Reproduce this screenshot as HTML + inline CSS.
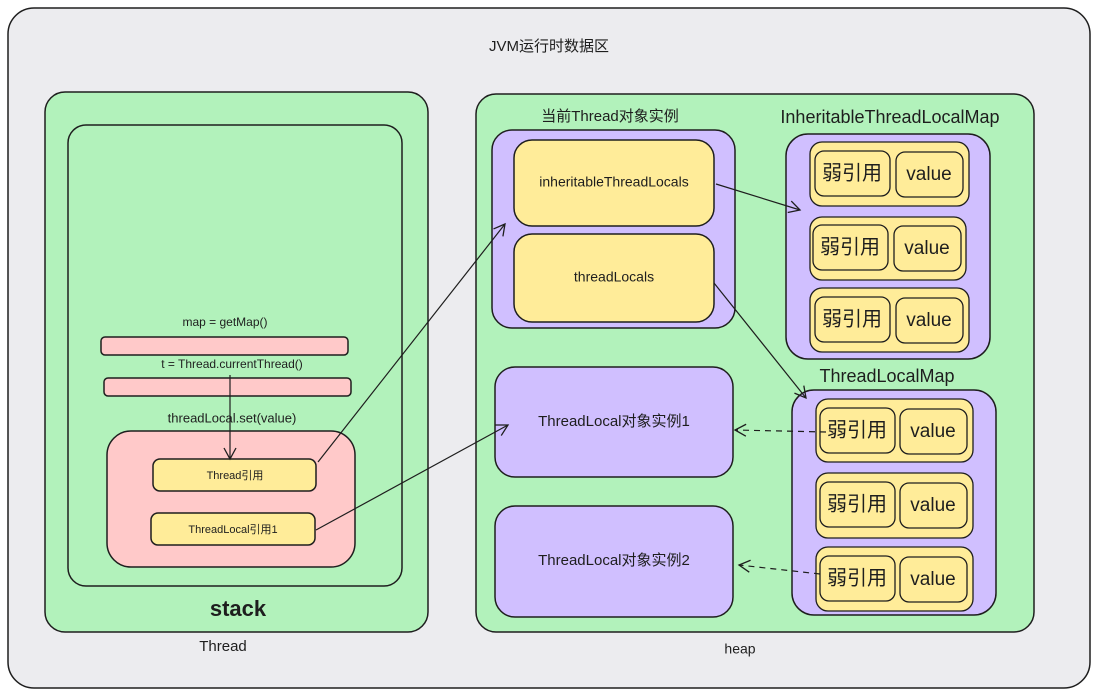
<!DOCTYPE html>
<html><head><meta charset="utf-8"><style>
html,body{margin:0;padding:0;background:#fff}
svg{display:block}
text{font-family:"Liberation Sans","Noto Sans CJK SC",sans-serif;fill:#1e1e1e;text-anchor:middle;dominant-baseline:middle}
</style></head><body>
<svg width="1098" height="694" viewBox="0 0 1098 694" xmlns="http://www.w3.org/2000/svg">
<defs><marker id="a" markerWidth="14" markerHeight="14" refX="12" refY="7" orient="auto" markerUnits="userSpaceOnUse"><path d="M1,1 L12,7 L1,13" fill="none" stroke="#1e1e1e" stroke-width="1.3"/></marker></defs>
<g stroke="#1e1e1e" stroke-width="1.5">
<rect x="8" y="8" width="1082" height="680" rx="26" fill="#ececef"/>
<rect x="45" y="92" width="383" height="540" rx="20" fill="#b2f2bb"/>
<rect x="68" y="125" width="334" height="461" rx="18" fill="#b2f2bb"/>
<rect x="101" y="337" width="247" height="18" rx="4" fill="#ffc9c9"/>
<rect x="104" y="378" width="247" height="18" rx="4" fill="#ffc9c9"/>
<rect x="107" y="431" width="248" height="136" rx="24" fill="#ffc9c9"/>
<rect x="153" y="459" width="163" height="32" rx="7" fill="#ffec99"/>
<rect x="151" y="513" width="164" height="32" rx="7" fill="#ffec99"/>
<rect x="476" y="94" width="558" height="538" rx="20" fill="#b2f2bb"/>
<rect x="492" y="130" width="243" height="198" rx="20" fill="#d0bfff"/>
<rect x="514" y="140" width="200" height="86" rx="18" fill="#ffec99"/>
<rect x="514" y="234" width="200" height="88" rx="18" fill="#ffec99"/>
<rect x="786" y="134" width="204" height="225" rx="22" fill="#d0bfff"/>
<rect x="792" y="390" width="204" height="225" rx="22" fill="#d0bfff"/>
<rect x="495" y="367" width="238" height="110" rx="20" fill="#d0bfff"/>
<rect x="495" y="506" width="238" height="111" rx="20" fill="#d0bfff"/>
</g>
<g stroke="#1e1e1e" stroke-width="1.3" fill="#ffec99">
<rect x="810" y="142" width="159" height="64" rx="12"/><rect x="815" y="151" width="75" height="45" rx="9"/><rect x="896" y="152" width="67" height="45" rx="9"/>
<rect x="810" y="217" width="156" height="63" rx="12"/><rect x="813" y="225" width="75" height="45" rx="9"/><rect x="894" y="226" width="67" height="45" rx="9"/>
<rect x="810" y="288" width="159" height="64" rx="12"/><rect x="815" y="297" width="75" height="45" rx="9"/><rect x="896" y="298" width="67" height="45" rx="9"/>
<rect x="816" y="399" width="157" height="63" rx="12"/><rect x="820" y="408" width="75" height="45" rx="9"/><rect x="900" y="409" width="67" height="45" rx="9"/>
<rect x="816" y="473" width="157" height="65" rx="12"/><rect x="820" y="482" width="75" height="45" rx="9"/><rect x="900" y="483" width="67" height="45" rx="9"/>
<rect x="816" y="547" width="157" height="64" rx="12"/><rect x="820" y="556" width="75" height="45" rx="9"/><rect x="900" y="557" width="67" height="45" rx="9"/>
</g>
<g stroke="#1e1e1e" stroke-width="1.2" fill="none">
<path d="M230,375 L230,459" marker-end="url(#a)"/>
<path d="M318,462 L505,224" marker-end="url(#a)"/>
<path d="M316,530 L508,425" marker-end="url(#a)"/>
<path d="M716,184 L800,210" marker-end="url(#a)"/>
<path d="M714,283 L806,398" marker-end="url(#a)"/>
<path d="M826,432 L735,430" stroke-dasharray="6,5" marker-end="url(#a)"/>
<path d="M820,574 L739,565" stroke-dasharray="6,5" marker-end="url(#a)"/>
</g>
<text x="549" y="47" font-size="15">JVM运行时数据区</text>
<text x="238" y="610" font-size="22" font-weight="bold">stack</text>
<text x="223" y="647" font-size="15">Thread</text>
<text x="740" y="650" font-size="14">heap</text>
<text x="225" y="323" font-size="12">map = getMap()</text>
<text x="232" y="365" font-size="12">t = Thread.currentThread()</text>
<text x="232" y="419" font-size="13">threadLocal.set(value)</text>
<text x="235" y="476" font-size="11">Thread引用</text>
<text x="233" y="530" font-size="11">ThreadLocal引用1</text>
<text x="610" y="117" font-size="15">当前Thread对象实例</text>
<text x="614" y="183" font-size="14">inheritableThreadLocals</text>
<text x="614" y="278" font-size="14">threadLocals</text>
<text x="890" y="118" font-size="18">InheritableThreadLocalMap</text>
<text x="887" y="377" font-size="18">ThreadLocalMap</text>
<text x="614" y="422" font-size="15">ThreadLocal对象实例1</text>
<text x="614" y="561" font-size="15">ThreadLocal对象实例2</text>
<g font-size="20">
<text x="852" y="174" style="font-size:20px">弱引用</text><text x="929" y="175" style="font-size:19px">value</text>
<text x="850" y="248" style="font-size:20px">弱引用</text><text x="927" y="249" style="font-size:19px">value</text>
<text x="852" y="320" style="font-size:20px">弱引用</text><text x="929" y="321" style="font-size:19px">value</text>
<text x="857" y="431" style="font-size:20px">弱引用</text><text x="933" y="432" style="font-size:19px">value</text>
<text x="857" y="505" style="font-size:20px">弱引用</text><text x="933" y="506" style="font-size:19px">value</text>
<text x="857" y="579" style="font-size:20px">弱引用</text><text x="933" y="580" style="font-size:19px">value</text>
</g>
</svg>
</body></html>
